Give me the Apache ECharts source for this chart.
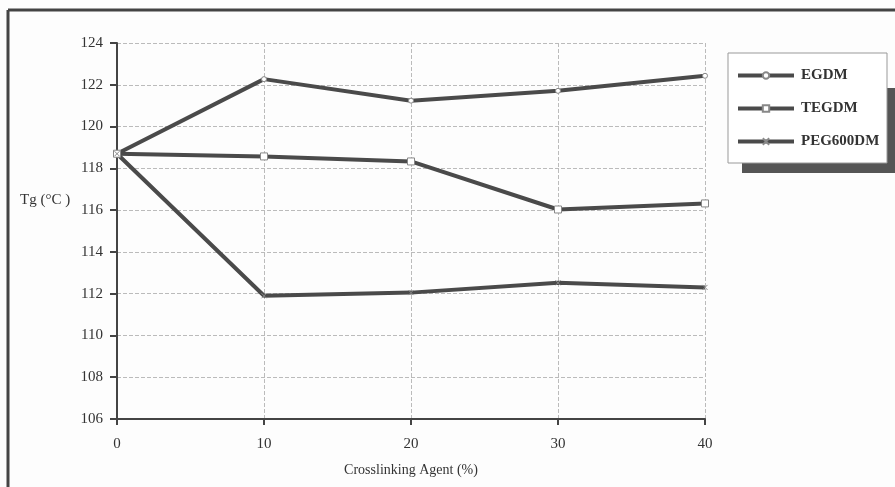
<!DOCTYPE html>
<html><head><meta charset="utf-8">
<script src="https://cdn.jsdelivr.net/npm/echarts@6/dist/echarts.min.js"></script>
<style>html,body{margin:0;padding:0;background:#fff}#c{width:895px;height:487px}</style>
</head><body><div id="c"></div>
<script>
const categories = [0, 10, 20, 30, 40];
const seriesNames = ['EGDM', 'TEGDM', 'PEG600DM'];
const egdm = [118.7, 122.27, 121.24, 121.71, 122.43];
const tegdm = [118.7, 118.57, 118.33, 116.03, 116.32];
const peg600dm = [118.7, 111.9, 112.05, 112.52, 112.3];
const yTicks = [106, 108, 110, 112, 114, 116, 118, 120, 122, 124];
const xTitle = 'Crosslinking Agent (%)';
const yTitle = 'Tg (°C )';

const font = 'Liberation Serif';
const lineCol = '#4a4a4a';
const xPath = 'path://M0,0L10,10M10,0L0,10';
const chart = echarts.init(document.getElementById('c'));
function mk(name, data, symbol, size) {
  return {
    name, type: 'line', data: categories.map((x, i) => [x, data[i]]),
    symbol, symbolSize: size, showSymbol: true,
    lineStyle: { color: lineCol, width: 4 },
    itemStyle: { color: '#fff', borderColor: '#888', borderWidth: 1 },
    z: 3
  };
}
chart.setOption({
  animation: false,
  backgroundColor: '#fdfdfd',
  grid: { left: 117, right: 190, top: 43, bottom: 68 },
  xAxis: {
    type: 'value', min: 0, max: 40, interval: 10,
    name: xTitle, nameLocation: 'middle', nameGap: 44,
    nameTextStyle: { fontFamily: font, fontSize: 14, color: '#333' },
    axisLine: { lineStyle: { color: '#444', width: 2 } },
    axisTick: { show: true, inside: false, length: 6, lineStyle: { color: '#444', width: 2 } },
    axisLabel: { fontFamily: font, fontSize: 15, color: '#333', margin: 18 },
    splitLine: { show: true, lineStyle: { color: '#bbb', type: 'dashed', width: 1 } }
  },
  yAxis: {
    type: 'value', min: yTicks[0], max: yTicks[yTicks.length - 1], interval: 2,
    axisLine: { show: true, lineStyle: { color: '#444', width: 2 } },
    axisTick: { show: true, length: 7, lineStyle: { color: '#444', width: 2 } },
    axisLabel: { fontFamily: font, fontSize: 15, color: '#333', margin: 14 },
    splitLine: { show: true, lineStyle: { color: '#bbb', type: 'dashed', width: 1 } }
  },
  legend: {
    orient: 'vertical', left: 736, top: 68, padding: 0,
    itemGap: 18, itemWidth: 56, itemHeight: 8,
    lineStyle: { width: 4, color: lineCol },
    textStyle: { fontFamily: font, fontSize: 15, fontWeight: 'bold', color: '#333', padding: [0, 0, 0, 2] },
    data: seriesNames
  },
  graphic: [
    { type: 'line', shape: { x1: 8, y1: 10, x2: 895, y2: 10 }, style: { stroke: '#444', lineWidth: 3 } },
    { type: 'line', shape: { x1: 8, y1: 10, x2: 8, y2: 487 }, style: { stroke: '#444', lineWidth: 3 } },
    { type: 'rect', z: 0, shape: { x: 742, y: 88, width: 160, height: 85 }, style: { fill: '#555' } },
    { type: 'rect', z: 1, shape: { x: 728, y: 53, width: 159, height: 110 }, style: { fill: '#fff', stroke: '#999', lineWidth: 1 } },
    { type: 'text', left: 20, top: 193, style: { text: yTitle, font: '15px "Liberation Serif"', fill: '#333' } }
  ],
  series: [
    mk(seriesNames[0], egdm, 'circle', 5),
    mk(seriesNames[1], tegdm, 'rect', 7),
    mk(seriesNames[2], peg600dm, xPath, 5)
  ]
});
</script></body></html>
